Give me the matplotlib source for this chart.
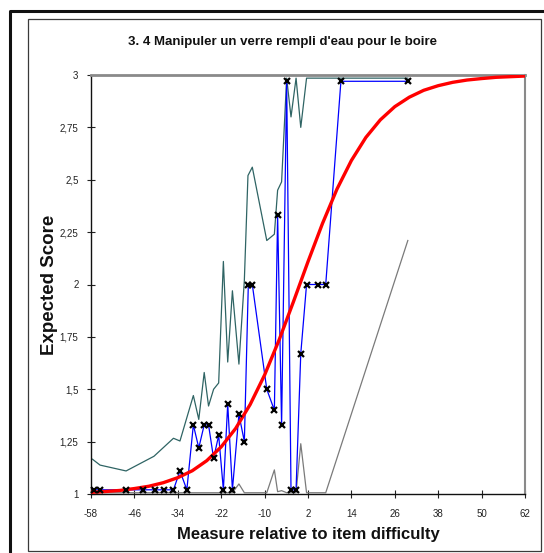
import matplotlib
matplotlib.use('Agg')
import matplotlib.pyplot as plt
from matplotlib.patches import Rectangle
from matplotlib.lines import Line2D

# ---- data ----
obs_x = [-57.1, -55.5, -48.3, -43.7, -40.4, -37.7, -35.2, -33.4, -31.5, -29.7,
         -28.2, -26.7, -25.5, -24.1, -22.7, -21.4, -20.2, -18.9, -17.1, -15.6,
         -14.5, -13.4, -9.4, -7.3, -6.4, -5.3, -3.9, -2.7, -1.3, 0.0,
         1.6, 4.9, 6.9, 11.1, 29.6]
obs_y = [1.02, 1.02, 1.02, 1.02, 1.02, 1.02, 1.02, 1.11, 1.02, 1.33,
         1.22, 1.33, 1.33, 1.17, 1.28, 1.02, 1.43, 1.02, 1.38, 1.25,
         2.0, 2.0, 1.5, 1.4, 2.33, 1.33, 2.97, 1.02, 1.02, 1.67,
         2.0, 2.0, 2.0, 2.97, 2.97]

upper_x = [-57.6, -55.5, -48.3, -40.6, -35.2, -33.4, -29.7, -28.2, -26.7, -25.5,
           -24.1, -22.7, -21.4, -20.2, -18.9, -17.1, -15.6, -14.6, -13.4, -9.4,
           -7.3, -6.4, -5.3, -3.9, -2.7, -1.3, 0.0, 1.6, 29.6]
upper_y = [1.166, 1.138, 1.11, 1.18, 1.266, 1.253, 1.47, 1.356, 1.58, 1.42,
           1.50, 1.53, 2.11, 1.63, 1.97, 1.62, 2.02, 2.52, 2.56, 2.21,
           2.24, 2.45, 2.49, 2.985, 2.80, 2.985, 2.75, 2.985, 2.985]

lower_x = [-57.6, -18.9, -17.1, -15.6, -9.4, -7.3, -6.4, -5.3, -3.9, -1.3,
           0.0, 1.6, 6.9, 29.6]
lower_y = [1.006, 1.006, 1.048, 1.006, 1.006, 1.115, 1.011, 1.016, 1.006, 1.006,
           1.24, 1.006, 1.006, 2.21]

model_x = [-58, -54, -50, -46, -42, -38, -34, -30, -26, -22, -18, -14, -10, -6, -2,
           2, 6, 10, 14, 18, 22, 26, 30, 34, 38, 42, 46, 50, 54, 58, 62]
model_y = [1.008, 1.012, 1.017, 1.026, 1.037, 1.054, 1.078, 1.111, 1.159, 1.225,
           1.313, 1.427, 1.568, 1.735, 1.919, 2.109, 2.291, 2.455, 2.592, 2.702,
           2.786, 2.849, 2.894, 2.927, 2.949, 2.965, 2.976, 2.983, 2.989, 2.992, 2.995]

x_ticks = [-58, -46, -34, -22, -10, 2, 14, 26, 38, 50, 62]
y_ticks = [1, 1.25, 1.5, 1.75, 2, 2.25, 2.5, 2.75, 3]
y_tick_labels = ['1', '1,25', '1,5', '1,75', '2', '2,25', '2,5', '2,75', '3']

title = "3. 4 Manipuler un verre rempli d'eau pour le boire"
xlabel = "Measure relative to item difficulty"
ylabel = "Expected Score"

FONT = ['Liberation Sans Narrow', 'Liberation Sans', 'DejaVu Sans']
plt.rcParams['font.family'] = FONT

W, H = 544, 553
fig = plt.figure(figsize=(W / 100, H / 100), dpi=100)
fig.patch.set_facecolor('white')

# frames
def fx(px):
    return px / W
def fy(py):
    return 1 - py / H

fig.add_artist(Line2D([fx(9.5), fx(9.5), fx(560)], [fy(600), fy(11), fy(11)],
                      transform=fig.transFigure, color='#111111', lw=2.2))
fig.add_artist(Rectangle((fx(28), fy(551)), fx(541) - fx(28), fy(19) - fy(551),
                         transform=fig.transFigure, fill=False,
                         edgecolor='#3a3a3a', lw=0.9))

L, R, T, B = 91, 525, 75, 494
ax = fig.add_axes([fx(L), fy(B), fx(R) - fx(L), fy(T) - fy(B)])
ax.set_xlim(-58, 62)
ax.set_ylim(1, 3)

ax.plot(upper_x, upper_y, color='#2f6464', lw=0.9, zorder=2)
ax.plot(lower_x, lower_y, color='#7a7a7a', lw=0.9, zorder=2)
ax.plot(obs_x, obs_y, color='#0000ff', lw=0.9, zorder=3)
ax.plot(model_x, model_y, color='#ff0000', lw=2.4, zorder=4, solid_capstyle='butt')
ax.plot(obs_x, obs_y, linestyle='none', marker='x', color='black',
        markersize=4.2, markeredgewidth=1.6, zorder=5, clip_on=False)

ax.set_xticks(x_ticks)
ax.set_xticklabels([str(v) for v in x_ticks])
ax.set_yticks(y_ticks)
ax.set_yticklabels(y_tick_labels)
ax.tick_params(axis='both', direction='inout', length=6, width=0.8,
               colors='#222222', labelsize=7)
ax.tick_params(axis='x', pad=8)
ax.tick_params(axis='y', pad=6)
ax.tick_params(top=False, right=False)

ax.spines['left'].set_color('#111111')
ax.spines['bottom'].set_color('#111111')
ax.spines['left'].set_linewidth(1.0)
ax.spines['bottom'].set_linewidth(1.0)
ax.spines['top'].set_color('#8a8a8a')
ax.spines['top'].set_linewidth(2.0)
ax.spines['right'].set_color('#8a8a8a')
ax.spines['right'].set_linewidth(1.5)

fig.text(fx(283), fy(42), title, ha='center', va='center',
         fontsize=9.5, fontweight='bold', color='#111111')
fig.text(fx(308), fy(534), xlabel, ha='center', va='center',
         fontsize=12, fontweight='bold', color='#111111')
fig.text(fx(50), fy(285), ylabel, ha='center', va='center', rotation=90,
         fontsize=13.5, fontweight='bold', color='#111111')

fig.savefig('out.png', dpi=100, facecolor='white')
